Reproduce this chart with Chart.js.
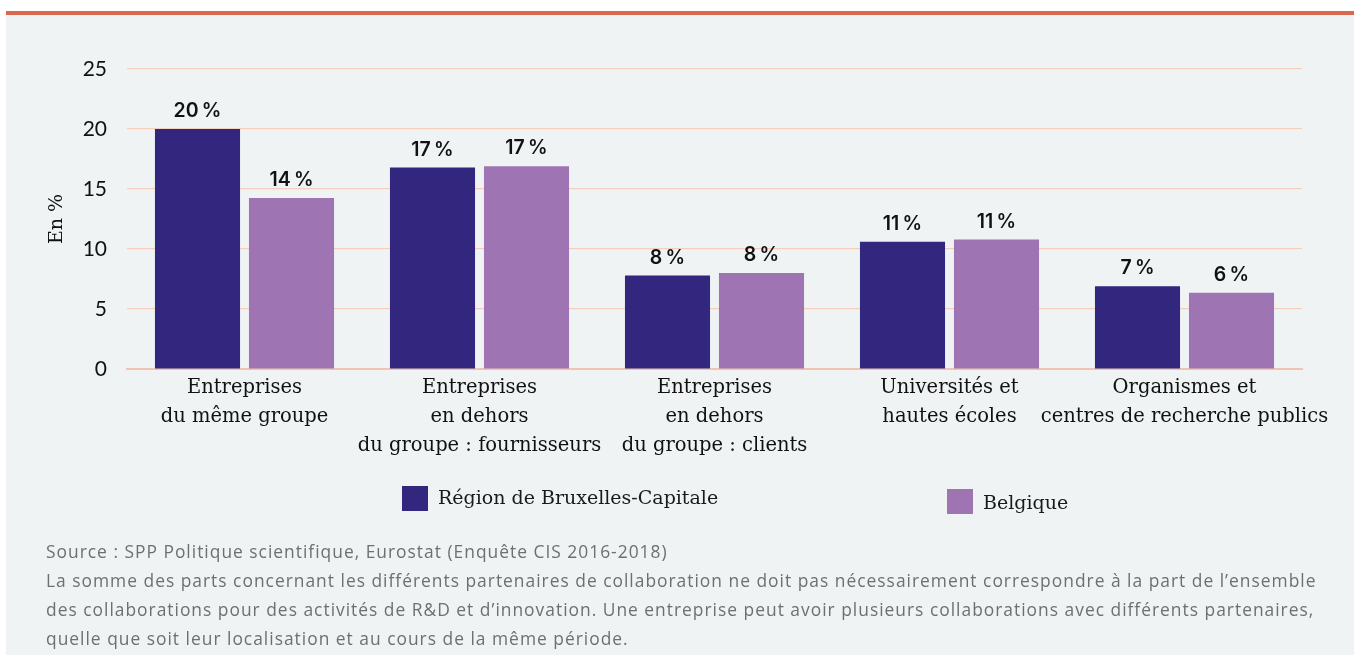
<!DOCTYPE html>
<html lang="fr">
<head>
<meta charset="utf-8">
<script src="https://cdn.jsdelivr.net/npm/chart.js@4.4.1/dist/chart.umd.min.js"></script>
<style>
  html, body { margin: 0; padding: 0; background: #ffffff; }
  body { width: 1354px; height: 657px; position: relative; overflow: hidden; }
  #panel { position: absolute; left: 6px; top: 11px; right: 0; bottom: 2px; background: #eff3f4; border-top: 4px solid #d9684e; }
  #chartBox { position: absolute; left: 0; top: 0; width: 1354px; height: 657px; }
  .legend { position: absolute; font-family: "DejaVu Serif", serif; font-size: 19px; color: #1a1a1a; white-space: nowrap; }
  .legend span.box { position: absolute; width: 26px; height: 25px; }
  .note { position: absolute; left: 46px; top: 537px; font-family: "Open Sans", sans-serif; font-size: 17.4px; letter-spacing: 1px; line-height: 29px; color: #6f6f6f; white-space: nowrap; }
</style>
</head>
<body>
<div id="panel"></div>
<div id="chartBox"><canvas id="chart" width="1354" height="657"></canvas></div>

<div class="legend" style="left:402px; top:486px;"><span class="box" style="left:0; top:0; background:#32267f;"></span><span style="position:absolute; left:36px; top:0px;">Région de Bruxelles-Capitale</span></div>
<div class="legend" style="left:947px; top:489px;"><span class="box" style="left:0; top:0; background:#9f74b2;"></span><span style="position:absolute; left:36px; top:2px;">Belgique</span></div>

<div class="note">
  Source : SPP Politique scientifique, Eurostat (Enquête CIS 2016-2018)<br>
  La somme des parts concernant les différents partenaires de collaboration ne doit pas nécessairement correspondre à la part de l’ensemble<br>
  des collaborations pour des activités de R&amp;D et d’innovation. Une entreprise peut avoir plusieurs collaborations avec différents partenaires,<br>
  quelle que soit leur localisation et au cours de la même période.
</div>

<script>
const categories = [
  ['Entreprises', 'du même groupe'],
  ['Entreprises', 'en dehors', 'du groupe : fournisseurs'],
  ['Entreprises', 'en dehors', 'du groupe : clients'],
  ['Universités et', 'hautes écoles'],
  ['Organismes et', 'centres de recherche publics']
];
const bruxelles = [20.0, 16.8, 7.8, 10.6, 6.9];
const belgique = [14.25, 16.9, 8.0, 10.8, 6.35];
const bruxellesLabels = ['20\u202F%', '17\u202F%', '8\u202F%', '11\u202F%', '7\u202F%'];
const belgiqueLabels = ['14\u202F%', '17\u202F%', '8\u202F%', '11\u202F%', '6\u202F%'];
const yTicks = [0, 5, 10, 15, 20, 25];

const labelsBySeries = [bruxellesLabels, belgiqueLabels];

// etiquettes au-dessus des barres
const valueLabels = {
  id: 'valueLabels',
  afterDatasetsDraw(chart) {
    const ctx = chart.ctx;
    ctx.save();
    ctx.font = '600 19.5px Inter, sans-serif';
    ctx.fillStyle = '#111111';
    ctx.textAlign = 'center';
    ctx.textBaseline = 'bottom';
    chart.data.datasets.forEach((ds, i) => {
      chart.getDatasetMeta(i).data.forEach((bar, j) => {
        ctx.fillText(labelsBySeries[i][j], bar.x, bar.y - 8);
      });
    });
    ctx.restore();
  }
};

const ctx = document.getElementById('chart').getContext('2d');
new Chart(ctx, {
  type: 'bar',
  data: {
    labels: categories,
    datasets: [
      { label: 'Région de Bruxelles-Capitale', data: bruxelles, backgroundColor: '#32267f', categoryPercentage: 0.8, barPercentage: 0.905 },
      { label: 'Belgique', data: belgique, backgroundColor: '#9f74b2', categoryPercentage: 0.8, barPercentage: 0.905 }
    ]
  },
  options: {
    responsive: false,
    animation: false,
    layout: { padding: { left: 46, top: 69, right: 52, bottom: 188 } },
    plugins: {
      legend: { display: false },
      tooltip: { enabled: false }
    },
    scales: {
      x: {
        grid: { display: false, drawTicks: false },
        border: { display: true, color: '#f0c4b0', width: 2 },
        ticks: {
          color: '#111111',
          padding: 4,
          maxRotation: 0,
          autoSkip: false,
          font: { family: 'DejaVu Serif', size: 19.5, lineHeight: 1.49 }
        },
        afterFit: (s) => { s.height = 100; }
      },
      y: {
        min: 0,
        max: 25,
        afterBuildTicks: (s) => { s.ticks = yTicks.map(v => ({ value: v })); },
        grid: { color: '#f6cfbc', lineWidth: 1.2, drawTicks: false },
        border: { display: false },
        ticks: {
          color: '#111111',
          padding: 20,
          font: { family: 'Lato', size: 21 }
        },
        title: {
          display: true,
          text: 'En %',
          color: '#111111',
          padding: 0,
          font: { family: 'DejaVu Serif', size: 19 }
        },
        afterFit: (s) => { s.width = 81; }
      }
    }
  },
  plugins: [valueLabels]
});
</script>
</body>
</html>
